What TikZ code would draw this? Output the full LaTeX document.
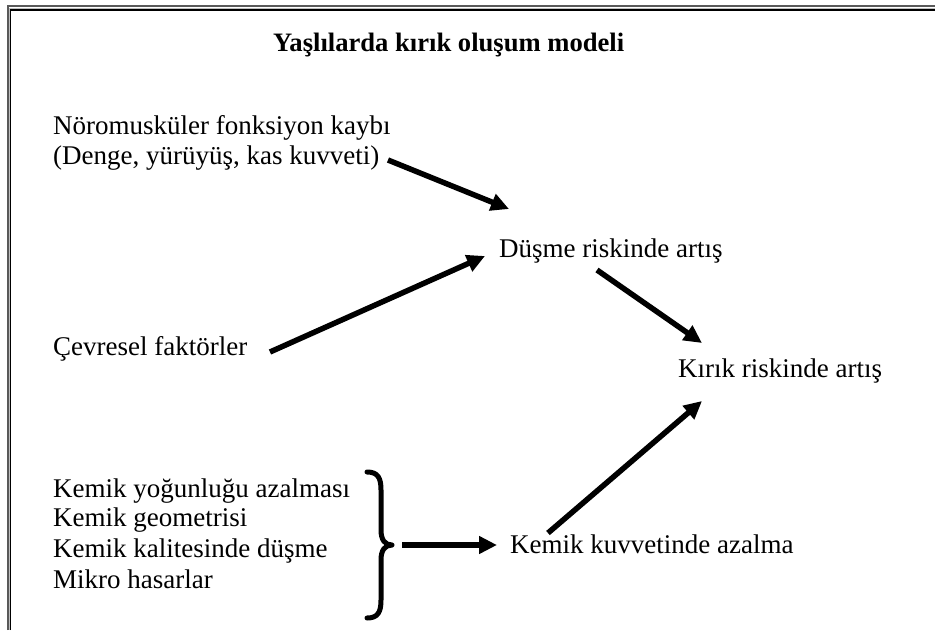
\documentclass[tikz,border=0pt]{standalone}
\usepackage{fontspec}
\setmainfont{Liberation Serif}
\usetikzlibrary{arrows.meta}
\begin{document}
\begin{tikzpicture}[x=1pt,y=-1pt,
  lbl/.style={anchor=base west, inner sep=0pt, font=\fontsize{27}{31}\selectfont},
  ttl/.style={lbl, font=\fontsize{26.6}{31}\selectfont\bfseries},
  arr/.style={line width=5.5pt, -{Triangle[length=18pt,width=17pt]}},
  brc/.style={line width=5pt, line cap=round, line join=round},
  frameouter/.style={line width=2pt, draw=black!65},
  framemid/.style={line width=1pt, draw=black!25},
  frameinner/.style={line width=1.2pt, draw=black}]
\useasboundingbox (0,0) rectangle (935,630);
% frame
\draw[frameouter] (7.5,630) -- (7.5,6) -- (935,6);
\draw[framemid] (9.3,630) -- (9.3,8) -- (935,8);
\draw[frameinner] (10.8,630) -- (10.8,10) -- (935,10);
% texts
\node[ttl] (title) at (273,51) {Yaşlılarda kırık oluşum modeli};
\node[lbl] (noro) at (53,134) {Nöromusküler fonksiyon kaybı};
\node[lbl] (denge) at (53,164) {(Denge, yürüyüş, kas kuvveti)};
\node[lbl] (dusme) at (499,257) {Düşme riskinde artış};
\node[lbl] (cevre) at (53,355) {Çevresel faktörler};
\node[lbl] (kirik) at (678,377) {Kırık riskinde artış};
\node[lbl] (k1) at (53,497) {Kemik yoğunluğu azalması};
\node[lbl] (k2) at (53,526) {Kemik geometrisi};
\node[lbl] (k3) at (53,557) {Kemik kalitesinde düşme};
\node[lbl] (k4) at (53,588) {Mikro hasarlar};
\node[lbl] (kuvvet) at (510,553) {Kemik kuvvetinde azalma};
% arrow end points
\coordinate (a1s) at (388,160);
\coordinate (a1e) at (509,209);
\coordinate (a2s) at (270,352);
\coordinate (a2e) at (485,256);
\coordinate (a3s) at (597,270);
\coordinate (a3e) at (702,343);
\coordinate (a4s) at (548,533);
\coordinate (a4e) at (702,401);
\coordinate (a5s) at (402,545);
\coordinate (a5e) at (497,545);
\draw[arr] (a1s) -- (a1e);
\draw[arr] (a2s) -- (a2e);
\draw[arr] (a3s) -- (a3e);
\draw[arr] (a4s) -- (a4e);
\draw[arr] (a5s) -- (a5e);
% brace
\coordinate (btop) at (367,472);
\coordinate (btip) at (392,545);
\coordinate (bbot) at (367,618);
\draw[brc] (btop) .. controls (378,472) and (381,478) .. (381,490)
  -- (381,530) .. controls (381,540) and (385,545) .. (btip)
  .. controls (385,545) and (381,550) .. (381,560)
  -- (381,600) .. controls (381,612) and (378,618) .. (bbot);
\end{tikzpicture}
\end{document}
